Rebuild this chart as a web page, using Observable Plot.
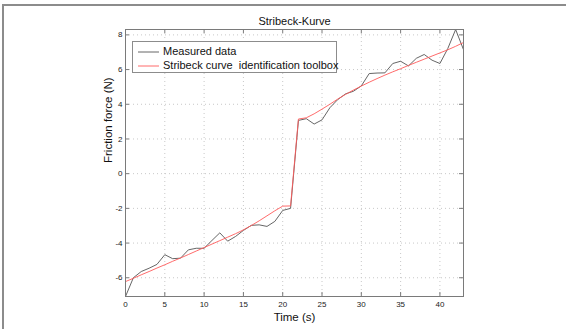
<!DOCTYPE html>
<html><head><meta charset="utf-8">
<script src="https://cdn.jsdelivr.net/npm/d3@7"></script>
<script src="https://cdn.jsdelivr.net/npm/@observablehq/plot@0.6"></script>
<style>
body{margin:0;background:#fff;font-family:"Liberation Sans",Arial,Helvetica,sans-serif;}
#wrap{position:relative;width:566px;height:329px;overflow:hidden;}
#border{position:absolute;left:2px;top:4px;width:600px;height:400px;border-top:2px solid #8c8c8c;border-left:2px solid #8c8c8c;pointer-events:none;}
#chart{position:absolute;left:0;top:0;}
#legend{position:absolute;left:132px;top:41px;width:203px;height:30px;border:1px solid #8c8c8c;background:#fff;font-size:11px;color:#111;}
.row{position:absolute;left:5px;height:14px;line-height:14px;white-space:pre;}
.row svg{vertical-align:middle;margin-right:4px;}
</style>
</head><body>
<div id="wrap"><div id="chart"></div><div id="border"></div>
<div id="legend">
 <div class="row" style="top:2px"><svg width="21" height="4"><line x1="0" y1="2" x2="21" y2="2" stroke="#555" stroke-width="0.9"/></svg>Measured data</div>
 <div class="row" style="top:16px"><svg width="21" height="4"><line x1="0" y1="2" x2="21" y2="2" stroke="#ff5a5a" stroke-width="0.9"/></svg>Stribeck curve  identification toolbox</div>
</div>
</div>
<script>
const time = [0,1,2,3,4,5,6,7,8,9,10,11,12,13,14,15,16,17,18,19,20,21,22,23,24,25,26,27,28,29,30,31,32,33,34,35,36,37,38,39,40,41,42,43];
const measured = [-7.08,-6.0,-5.64,-5.45,-5.23,-4.67,-4.9,-4.87,-4.39,-4.3,-4.3,-3.85,-3.41,-3.89,-3.62,-3.27,-2.98,-2.95,-3.04,-2.75,-2.12,-2.0,3.07,3.17,2.86,3.1,3.8,4.27,4.6,4.75,5.06,5.77,5.8,5.81,6.35,6.48,6.21,6.65,6.87,6.54,6.35,7.21,8.31,7.15];
const stribeck = [-6.22,-6.03,-5.83,-5.64,-5.44,-5.25,-5.05,-4.86,-4.66,-4.46,-4.26,-4.06,-3.86,-3.66,-3.46,-3.24,-2.99,-2.72,-2.43,-2.14,-1.87,-1.86,3.15,3.22,3.45,3.72,4.0,4.3,4.57,4.82,5.05,5.27,5.48,5.68,5.87,6.05,6.24,6.42,6.6,6.78,6.96,7.14,7.34,7.56];
const xTicks = [0,5,10,15,20,25,30,35,40];
const yTicks = [-6,-4,-2,0,2,4,6,8];
const title = "Stribeck-Kurve";
const xLabel = "Time (s)";
const yLabel = "Friction force (N)";

const W = 566, H = 329, mL = 125, mR = 103, mT = 29, mB = 33;
const iw = W - mL - mR, ih = H - mT - mB;
const meas = time.map((t, i) => ({t, v: measured[i]}));
const fit = time.map((t, i) => ({t, v: stribeck[i]}));
const axisCol = "#7a7a7a";
const fmt = d => String(d);

const chart = Plot.plot({
  width: W, height: H,
  marginLeft: mL, marginRight: mR, marginTop: mT, marginBottom: mB,
  style: {fontFamily: '"Liberation Sans", Arial, Helvetica, sans-serif', fontSize: "8px", color: "#222", background: "transparent"},
  x: {domain: [0, 43]},
  y: {domain: [-7.08, 8.31]},
  marks: [
    Plot.gridX(xTicks, {stroke: "#c8c8c8", strokeOpacity: 1, strokeDasharray: "1,3"}),
    Plot.gridY(yTicks, {stroke: "#c8c8c8", strokeOpacity: 1, strokeDasharray: "1,3"}),
    Plot.line(meas, {x: "t", y: "v", stroke: "#555", strokeWidth: 0.9}),
    Plot.line(fit, {x: "t", y: "v", stroke: "#ff5a5a", strokeWidth: 0.9}),
    Plot.frame({stroke: axisCol}),
    Plot.tickX(xTicks, {x: d => d, insetTop: ih - 4, stroke: axisCol}),
    Plot.tickX(xTicks, {x: d => d, insetBottom: ih - 4, stroke: axisCol}),
    Plot.tickY(yTicks, {y: d => d, insetRight: iw - 4, stroke: axisCol}),
    Plot.tickY(yTicks, {y: d => d, insetLeft: iw - 4, stroke: axisCol}),
    Plot.axisX(xTicks, {tickSize: 0, tickPadding: 5, label: null, tickFormat: fmt, fontSize: 8}),
    Plot.axisY(yTicks, {tickSize: 0, tickPadding: 3, label: null, tickFormat: fmt, fontSize: 8}),
    Plot.text([xLabel], {frameAnchor: "bottom", lineAnchor: "middle", dy: 21, fontSize: 11.5, fill: "#111"}),
    Plot.text([yLabel], {frameAnchor: "left", lineAnchor: "middle", dx: -17, rotate: -90, fontSize: 11.5, fill: "#111"}),
    Plot.text([title], {frameAnchor: "top", lineAnchor: "middle", dy: -8, fontSize: 11, fill: "#111"})
  ]
});
document.getElementById("chart").appendChild(chart);
</script>
</body></html>
